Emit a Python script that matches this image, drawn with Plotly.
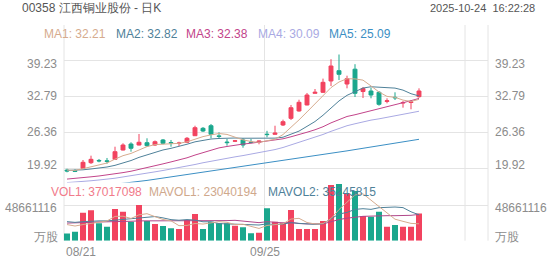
import plotly.graph_objects as go

W, H = 552, 265

# ---------------- data ----------------
dates = ["08/21", "08/22", "08/25", "08/26", "08/27", "08/28", "08/29",
         "09/01", "09/02", "09/03", "09/04", "09/05",
         "09/08", "09/09", "09/10", "09/11", "09/12",
         "09/15", "09/16", "09/17", "09/18", "09/19",
         "09/22", "09/23", "09/24", "09/25", "09/26",
         "09/29", "09/30", "10/02", "10/03", "10/06",
         "10/08", "10/09", "10/10", "10/13", "10/14",
         "10/15", "10/16", "10/17", "10/20", "10/21",
         "10/22", "10/23", "10/24"]

opens = [19.60, 19.50, 19.92, 20.92, 21.32, 21.25, 21.52, 23.18, 24.25, 24.07,
         24.48, 24.07, 24.97, 24.52, 24.35, 24.56, 25.73, 27.05, 27.51, 25.70,
         24.60, 24.75, 24.97, 24.60, 24.56, 26.00, 25.98, 27.64, 28.83, 30.14,
         31.21, 33.29, 33.47, 35.49, 37.32, 34.95, 37.59, 33.61, 33.70, 33.47,
         31.85, 32.58, 31.55, 31.65, 32.69]
highs = [19.85, 19.75, 21.40, 22.17, 21.58, 21.76, 23.77, 24.38, 24.56, 26.04,
         25.27, 24.88, 25.14, 24.97, 24.66, 25.50, 27.51, 27.28, 27.82, 26.34,
         25.14, 24.97, 25.27, 25.14, 24.88, 26.60, 27.51, 28.59, 31.21, 32.15,
         33.35, 34.06, 35.91, 39.37, 40.21, 36.43, 38.48, 34.42, 34.29, 33.70,
         32.40, 33.47, 31.92, 32.10, 34.18]
lows = [19.20, 19.25, 19.85, 20.69, 20.99, 20.74, 21.45, 23.10, 22.88, 24.00,
        23.77, 23.90, 24.20, 23.77, 23.90, 24.43, 25.68, 26.39, 25.27, 25.27,
        23.95, 24.60, 23.59, 24.38, 24.20, 25.45, 25.90, 27.46, 28.53, 30.01,
        31.15, 33.26, 33.35, 34.59, 35.66, 34.18, 32.63, 32.45, 32.40, 31.08,
        31.51, 32.10, 30.73, 30.44, 32.51]
closes = [19.45, 19.38, 20.99, 21.52, 21.24, 21.15, 22.88, 24.07, 23.49, 24.56,
          23.95, 24.66, 24.38, 24.45, 24.42, 25.27, 27.16, 26.57, 25.98, 25.60,
          24.50, 24.82, 24.07, 24.52, 24.79, 25.93, 26.20, 28.23, 30.72, 31.69,
          32.99, 33.47, 35.25, 38.16, 36.68, 35.90, 33.29, 34.15, 32.99, 31.33,
          31.95, 32.50, 31.65, 31.75, 33.70]

ma1 = [19.60, 19.55, 19.85, 20.20, 20.52, 20.86, 21.56, 22.17, 22.57, 23.23,
       23.79, 24.15, 24.21, 24.40, 24.37, 24.64, 25.14, 25.57, 25.88, 26.12,
       25.96, 25.49, 24.99, 24.70, 24.54, 24.83, 25.10, 25.93, 27.17, 28.55,
       29.97, 31.42, 32.82, 34.31, 35.31, 35.89, 35.86, 35.64, 34.60, 33.53,
       32.74, 32.58, 32.08, 31.84, 32.21]
ma2 = [19.55, 19.55, 19.65, 19.80, 19.95, 20.15, 20.45, 20.85, 21.30, 21.87,
       22.32, 22.85, 23.19, 23.48, 23.80, 24.21, 24.64, 24.89, 25.14, 25.24,
       25.30, 25.32, 25.28, 25.29, 25.33, 25.39, 25.30, 25.46, 25.94, 26.55,
       27.40, 28.26, 29.38, 30.74, 31.93, 32.93, 33.64, 34.23, 34.46, 34.42,
       34.32, 34.22, 33.86, 33.22, 32.82]
ma3 = [18.00, 18.10, 18.25, 18.40, 18.55, 18.72, 18.92, 19.15, 19.40, 19.70,
       20.01, 20.37, 20.71, 21.06, 21.40, 21.79, 22.28, 22.73, 23.15, 23.56,
       23.81, 24.08, 24.24, 24.39, 24.56, 24.80, 24.97, 25.18, 25.54, 25.90,
       26.35, 26.79, 27.33, 28.02, 28.63, 29.16, 29.47, 29.85, 30.20, 30.48,
       30.86, 31.24, 31.62, 31.98, 32.38]
ma4 = [17.37, 17.44, 17.56, 17.70, 17.84, 17.96, 18.15, 18.38, 18.58, 18.82,
       19.05, 19.29, 19.53, 19.77, 20.00, 20.27, 20.60, 20.91, 21.20, 21.47,
       21.71, 21.96, 22.19, 22.43, 22.68, 22.97, 23.26, 23.63, 24.08, 24.55,
       25.01, 25.48, 25.95, 26.51, 27.02, 27.51, 27.86, 28.20, 28.51, 28.74,
       29.00, 29.27, 29.51, 29.75, 30.09]
ma5 = [16.00, 16.20, 16.40, 16.60, 16.80, 16.95, 17.10, 17.25, 17.38, 17.55,
       17.76, 17.97, 18.18, 18.40, 18.62, 18.83, 19.01, 19.19, 19.37, 19.55,
       19.76, 19.97, 20.18, 20.39, 20.60, 20.81, 21.02, 21.23, 21.44, 21.65,
       21.88, 22.11, 22.34, 22.57, 22.80, 23.03, 23.26, 23.48, 23.71, 23.94,
       24.17, 24.40, 24.63, 24.86, 25.09]

# volumes in millions of shares
volumes = [9.95, 12.3, 38.2, 41.4, 23.7, 19.1, 43.2, 39.5, 25.9, 48.661116,
           26.9, 22.8, 20.0, 16.9, 15.9, 28.2, 36.4, 15.9, 25.9, 23.7,
           23.7, 20.4, 18.3, 10.1, 10.9, 44.2, 25.9, 24.5, 41.8, 15.9,
           15.9, 15.9, 26.9, 76.0, 77.3, 64.6, 67.8, 33.7, 32.7, 39.5,
           19.1, 21.4, 19.1, 19.1, 37.017098]
mavol1 = [22.0, 20.0, 22.0, 24.0, 25.1, 26.9, 33.1, 33.4, 30.3, 35.3,
          36.8, 32.8, 28.9, 27.1, 20.5, 20.8, 23.5, 22.7, 24.5, 26.0,
          25.1, 21.9, 22.4, 19.2, 16.7, 20.8, 21.9, 23.1, 29.5, 30.5,
          24.8, 22.8, 23.3, 30.1, 42.4, 52.1, 62.5, 63.9, 55.2, 47.7,
          38.6, 29.3, 26.4, 23.6, 23.04]
mavol2 = [26.0, 25.0, 26.0, 27.0, 27.0, 27.0, 28.0, 29.0, 29.0, 30.2,
          31.9, 32.9, 31.1, 28.7, 27.9, 28.8, 28.1, 25.8, 25.8, 23.3,
          22.9, 22.7, 22.5, 21.9, 21.4, 23.0, 21.9, 22.8, 24.4, 23.6,
          22.8, 22.3, 23.2, 29.8, 36.4, 38.5, 42.7, 43.6, 42.7, 45.0,
          45.4, 45.9, 45.1, 39.4, 35.25]
mavol3 = [24.0, 24.0, 25.0, 25.0, 25.5, 25.5, 26.0, 26.0, 26.5, 27.0,
          27.0, 27.0, 27.0, 27.0, 26.5, 26.5, 27.0, 26.5, 26.5, 26.7,
          27.4, 27.8, 26.8, 25.3, 24.6, 25.9, 25.0, 24.3, 25.1, 23.4,
          22.9, 22.5, 22.9, 25.8, 28.9, 30.7, 32.3, 33.2, 33.5, 34.3,
          34.1, 34.1, 34.2, 34.6, 35.9]

ma_labels = ["MA1: 32.21", "MA2: 32.82", "MA3: 32.38", "MA4: 30.09", "MA5: 25.09"]
vol_labels = ["VOL1: 37017098", "MAVOL1: 23040194", "MAVOL2: 35245815"]
price_ticks = [39.23, 32.79, 26.36, 19.92]
price_tick_text = ["39.23", "32.79", "26.36", "19.92"]
vol_tick = 48.661116
vol_tick_text = "48661116"
vol_unit = "万股"
x_tick_labels = ["08/21", "09/25"]
title_text = "00358 江西铜业股份 - 日K"
stamp_text = "2025-10-24\u00a0\u00a016:22:28"

# ---------------- styles ----------------
RED = "#f2435f"
GREEN = "#1aa78d"
MA_COLORS = ["#d6ab8e", "#4f8199", "#c2448a", "#a9a9e3", "#3b8fc4"]
VOL_TXT_COLORS = ["#f17a8a", "#cfa88c", "#4f8199"]
MAVOL_COLORS = ["#d6ab8e", "#4f8199", "#b0478a"]
GRID = "#e4e4e4"
AXTXT = "#8c8c8c"
FONT = "Arial, Liberation Sans, sans-serif"


def px_x(p):
    return p / W


def px_y(p):
    return 1 - p / H


x = list(range(len(dates)))
x_left_px, x_right_px, grid_right_px = 64, 488, 465
step_px = 8.0
first_center_px = 67.0
x_min = -(first_center_px - x_left_px) / step_px
x_max = x_min + (x_right_px - x_left_px) / step_px

# price axis pixel geometry
p_top_px, p_bot_px = 25.0, 182.5
g_hi_px, g_lo_px = 60.0, 168.3
scale = (price_ticks[0] - price_ticks[-1]) / (g_lo_px - g_hi_px)
p_max = price_ticks[0] + (g_hi_px - p_top_px) * scale
p_min = price_ticks[0] - (p_bot_px - g_hi_px) * scale

# volume axis pixel geometry
v_top_px, v_bot_px, v_grid_px = 183.0, 240.7, 205.0
v_scale = vol_tick / (v_bot_px - v_grid_px)
v_max = (v_bot_px - v_top_px) * v_scale

fig = go.Figure()

fig.add_trace(go.Candlestick(
    x=x, open=opens, high=highs, low=lows, close=closes,
    increasing=dict(line=dict(color=RED, width=1), fillcolor=RED),
    decreasing=dict(line=dict(color=GREEN, width=1), fillcolor=GREEN),
    whiskerwidth=0, hoverinfo="skip", showlegend=False,
    xaxis="x", yaxis="y"))

for vals, col in zip([ma5, ma4, ma3, ma2, ma1], MA_COLORS[::-1]):
    fig.add_trace(go.Scatter(x=x, y=vals, mode="lines",
                             line=dict(color=col, width=1),
                             hoverinfo="skip", showlegend=False,
                             xaxis="x", yaxis="y"))

bar_colors = [RED if c > o else GREEN for o, c in zip(opens, closes)]
fig.add_trace(go.Bar(x=x, y=volumes, marker=dict(color=bar_colors, line=dict(width=0)),
                     width=0.75, hoverinfo="skip", showlegend=False,
                     xaxis="x2", yaxis="y2"))
for vals, col in zip([mavol3, mavol2, mavol1], MAVOL_COLORS[::-1]):
    fig.add_trace(go.Scatter(x=x, y=vals, mode="lines",
                             line=dict(color=col, width=1),
                             hoverinfo="skip", showlegend=False,
                             xaxis="x2", yaxis="y2"))

xdom = [px_x(x_left_px), px_x(x_right_px)]
axis_common = dict(showticklabels=False, zeroline=False, showline=False,
                   ticks="", fixedrange=True)

shapes = []
# vertical grid lines spanning both panels
for p in [x_left_px, (x_left_px + grid_right_px) / 2, grid_right_px, x_right_px]:
    shapes.append(dict(type="line", xref="paper", yref="paper",
                       x0=px_x(p), x1=px_x(p), y0=px_y(v_bot_px), y1=px_y(p_top_px),
                       line=dict(color=GRID, width=1), layer="below"))

annotations = []
# header
annotations.append(dict(text=title_text, x=px_x(19.5), y=px_y(7.8), xref="paper", yref="paper",
                        xanchor="left", yanchor="middle", showarrow=False,
                        font=dict(size=12, color="#555555", family=FONT)))
annotations.append(dict(text=stamp_text, x=px_x(537), y=px_y(7.8), xref="paper", yref="paper",
                        xanchor="right", yanchor="middle", showarrow=False,
                        font=dict(size=11, color="#555555", family=FONT)))
# MA legend
for lbl, col, xp in zip(ma_labels, MA_COLORS, [42, 114, 184, 255.5, 326.5]):
    annotations.append(dict(text=lbl, x=px_x(xp), y=px_y(34), xref="paper", yref="paper",
                            xanchor="left", yanchor="middle", showarrow=False,
                            font=dict(size=12, color=col, family=FONT)))
# volume legend
for lbl, col, xp in zip(vol_labels, VOL_TXT_COLORS, [49, 147, 265.5]):
    annotations.append(dict(text=lbl, x=px_x(xp), y=px_y(191.5), xref="paper", yref="paper",
                            xanchor="left", yanchor="middle", showarrow=False,
                            font=dict(size=12, color=col, family=FONT)))
# price tick labels both sides
shifts = [-4, 0, 0, 3]
for v, t, s in zip(price_ticks, price_tick_text, shifts):
    for xp, anc in [(58.5, "right"), (493, "left")]:
        annotations.append(dict(text=t, x=px_x(xp), y=v, xref="paper", yref="y",
                                yshift=s, xanchor=anc, yanchor="middle", showarrow=False,
                                font=dict(size=12, color=AXTXT, family=FONT)))
# volume tick labels
for xp, anc in [(58.5, "right"), (493, "left")]:
    annotations.append(dict(text=vol_tick_text, x=px_x(xp), y=vol_tick, xref="paper", yref="y2",
                            yshift=-2.5, xanchor=anc, yanchor="middle", showarrow=False,
                            font=dict(size=12, color=AXTXT, family=FONT)))
for xp, anc in [(32, "left"), (493, "left")]:
    annotations.append(dict(text=vol_unit, x=px_x(xp), y=0, xref="paper", yref="y2",
                            yshift=4, xanchor=anc, yanchor="middle", showarrow=False,
                            font=dict(size=12, color=AXTXT, family=FONT)))
# x labels
annotations.append(dict(text=x_tick_labels[0], x=px_x(x_left_px), y=px_y(252), xref="paper", yref="paper",
                        xanchor="left", yanchor="middle", showarrow=False,
                        font=dict(size=12, color=AXTXT, family=FONT)))
annotations.append(dict(text=x_tick_labels[1], x=dates.index(x_tick_labels[1]) - 0.25, y=px_y(252),
                        xref="x", yref="paper", xanchor="center", yanchor="middle", showarrow=False,
                        font=dict(size=12, color=AXTXT, family=FONT)))

fig.update_layout(
    width=W, height=H, margin=dict(l=0, r=0, t=0, b=0),
    paper_bgcolor="white", plot_bgcolor="white",
    showlegend=False, boxgap=0.3, bargap=0.25,
    font=dict(family=FONT),
    xaxis=dict(domain=xdom, range=[x_min, x_max], showgrid=False,
               rangeslider=dict(visible=False), anchor="y", **axis_common),
    xaxis2=dict(domain=xdom, range=[x_min, x_max], showgrid=False, anchor="y2",
                matches="x", **axis_common),
    yaxis=dict(domain=[px_y(p_bot_px), px_y(p_top_px)], range=[p_min, p_max],
               tickvals=price_ticks, showgrid=True, gridcolor=GRID, gridwidth=1,
               anchor="x", **axis_common),
    yaxis2=dict(domain=[px_y(v_bot_px), px_y(v_top_px)], range=[0, v_max],
                tickvals=[0, vol_tick], showgrid=True, gridcolor=GRID, gridwidth=1,
                anchor="x2", **axis_common),
    shapes=shapes, annotations=annotations,
)

fig.write_html("out.html", include_plotlyjs=True, config={"displayModeBar": False, "staticPlot": True})
